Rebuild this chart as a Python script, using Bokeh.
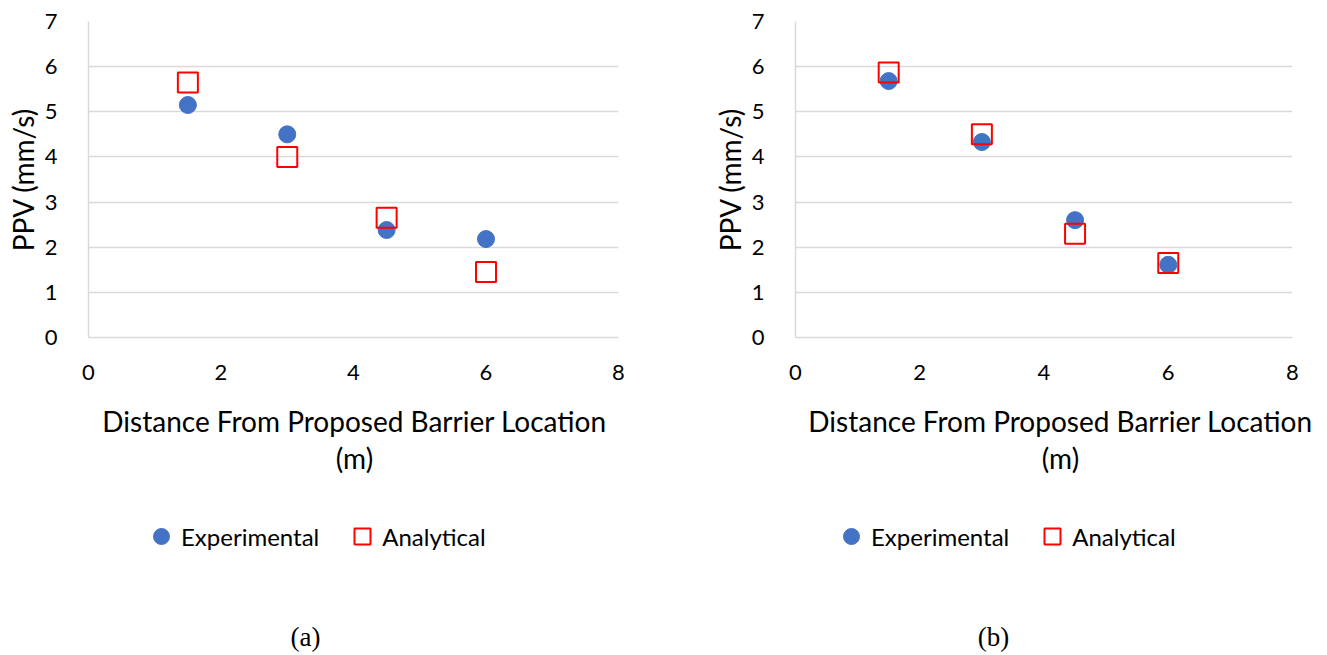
from bokeh.plotting import figure
from bokeh.layouts import row, column
from bokeh.models import Range1d, FixedTicker, Legend, LegendItem, Label
from bokeh.embed import file_html
from bokeh.resources import INLINE

# ---- data ----
distance = [1.5, 3.0, 4.5, 6.0]
exp_a = [5.15, 4.50, 2.38, 2.18]
ana_a = [5.65, 4.00, 2.65, 1.45]
exp_b = [5.68, 4.33, 2.60, 1.61]
ana_b = [5.87, 4.50, 2.30, 1.65]
x_ticks = [0, 2, 4, 6, 8]
y_ticks = [0, 1, 2, 3, 4, 5, 6, 7]
x_label_lines = ["Distance From Proposed Barrier Location", "(m)"]
y_label = "PPV (mm/s)"
series_names = ["Experimental", "Analytical"]
captions = ["(a)", "(b)"]

FONT = "Lato"
GRID = "#d9d9d9"
BLUE = "#4472C4"
RED = "#FF0000"
TOP_H = 395
BOT_H = 257
OFF = 200  # keeps the legend-feeding series out of the bottom panels' view


def add_series(p, exp, ana, sq_size):
    r_exp = p.scatter(distance, exp, marker="circle", size=17,
                      fill_color=BLUE, line_color=BLUE)
    r_ana = p.scatter(distance, ana, marker="square", size=sq_size,
                      fill_color=None, line_color=RED, line_width=2)
    return r_exp, r_ana


def top_panel(exp, ana, width, bl, br, bt, bb):
    p = figure(width=width, height=TOP_H, output_backend="svg", toolbar_location=None,
               x_range=Range1d(0, 8), y_range=Range1d(0, 7),
               min_border_left=bl, min_border_right=br, min_border_top=bt,
               min_border_bottom=bb)
    p.outline_line_color = None
    for ax in (p.xaxis[0], p.yaxis[0]):
        ax.axis_line_color = GRID
        ax.axis_line_width = 1.5
        ax.major_tick_line_color = None
        ax.minor_tick_line_color = None
        ax.major_label_text_font = FONT
        ax.major_label_text_font_size = "22px"
        ax.major_label_text_color = "black"
    p.xaxis.ticker = FixedTicker(ticks=x_ticks)
    p.yaxis.ticker = FixedTicker(ticks=y_ticks)
    p.xaxis.major_label_standoff = 21
    p.yaxis.major_label_standoff = 25
    p.yaxis.axis_label = y_label
    p.yaxis.axis_label_text_font = FONT
    p.yaxis.axis_label_text_font_size = "28px"
    p.yaxis.axis_label_text_font_style = "normal"
    p.yaxis.axis_label_text_color = "black"
    p.yaxis.axis_label_standoff = 2
    p.xgrid.grid_line_color = None
    p.ygrid.grid_line_color = GRID
    p.ygrid.grid_line_width = 1.5
    add_series(p, exp, ana, 20)
    return p


def bottom_panel(exp, ana, caption, width, title_x, cap_x, leg_x):
    # pixel-like scales: x from figure left, y downward from figure top (shifted by OFF)
    p = figure(width=width, height=BOT_H, output_backend="svg", toolbar_location=None,
               x_range=Range1d(0, width), y_range=Range1d(-BOT_H - OFF, -OFF),
               x_axis_location=None, y_axis_location=None,
               min_border_left=0, min_border_right=0, min_border_top=0,
               min_border_bottom=0)
    p.outline_line_color = None
    p.xgrid.visible = False
    p.ygrid.visible = False
    r_exp, r_ana = add_series(p, exp, ana, 16)

    for text, ly in zip(x_label_lines, (-25, -62)):
        p.add_layout(Label(x=title_x, y=ly - OFF, text=text, text_align="center",
                           text_baseline="middle", text_font=FONT,
                           text_font_size="28px", text_color="black"))
    p.add_layout(Label(x=cap_x, y=-241 - OFF, text=caption, text_align="center",
                       text_baseline="middle", text_font="Liberation Serif",
                       text_font_size="27px", text_color="black"))

    legend = Legend(items=[LegendItem(label=series_names[0], renderers=[r_exp]),
                           LegendItem(label=series_names[1], renderers=[r_ana])],
                    orientation="horizontal", location=(leg_x, 96),
                    label_text_font=FONT, label_text_font_size="24px",
                    label_text_color="black",
                    glyph_width=40, glyph_height=40, label_standoff=0,
                    spacing=23, padding=0, margin=0,
                    border_line_color=None, background_fill_alpha=0)
    p.add_layout(legend, "center")
    return p


ta = top_panel(exp_a, ana_a, 665, 88, 47, 21, 56)
tb = top_panel(exp_b, ana_b, 660, 130, 33, 19, 58)
ba = bottom_panel(exp_a, ana_a, captions[0], 665, 354, 305, 141)
bb = bottom_panel(exp_b, ana_b, captions[1], 660, 395, 328, 166)

layout = column(row(ta, tb), row(ba, bb))
open("out.html", "w").write(file_html(layout, INLINE))
